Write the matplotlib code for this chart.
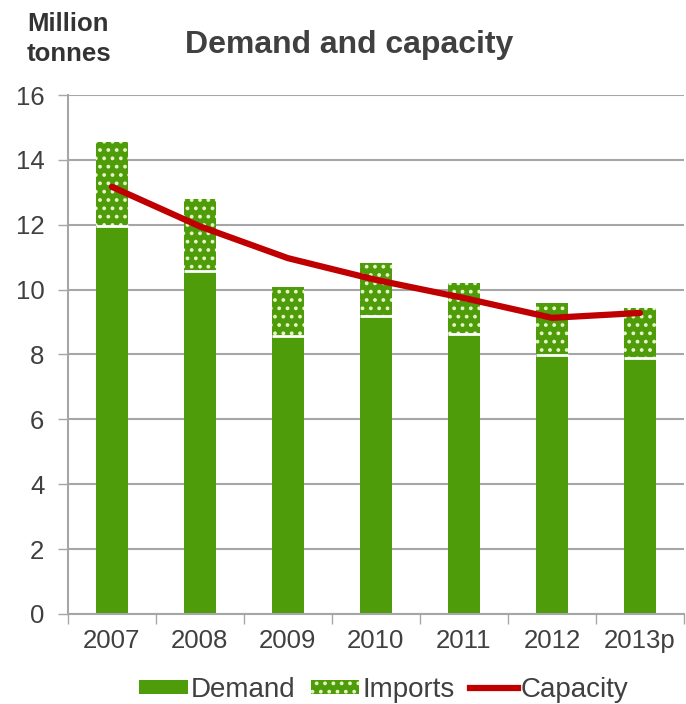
import matplotlib
matplotlib.use("Agg")
import matplotlib.pyplot as plt
import numpy as np
from matplotlib.patches import Patch
from matplotlib.lines import Line2D

plt.rcParams['font.family'] = ['Liberation Sans', 'DejaVu Sans']
plt.rcParams['hatch.linewidth'] = 1.5

years = ['2007', '2008', '2009', '2010', '2011', '2012', '2013p']
demand = [11.95, 10.58, 8.56, 9.18, 8.62, 7.98, 7.88]
imports = [2.60, 2.20, 1.51, 1.64, 1.58, 1.61, 1.56]
capacity = [13.17, 11.95, 10.97, 10.30, 9.74, 9.13, 9.28]
yticks = [0, 2, 4, 6, 8, 10, 12, 14, 16]

green = '#4f9c0b'
red = '#c00000'
grid_c = '#a6a6a6'
text_c = '#404040'

fig = plt.figure(figsize=(6.86, 7.04), dpi=100)
ax = fig.add_axes([0.099, 0.128, 0.898, 0.737])

x = np.arange(len(years))
w = 0.36
ax.bar(x, demand, w, color=green, linewidth=0, zorder=2)
ax.bar(x, imports, w, bottom=demand, color=green, edgecolor='#e6f5c8',
       linewidth=0, hatch='..', zorder=2)
ax.hlines(demand, x - w / 2, x + w / 2, colors='white', linewidth=2, zorder=3)
ax.plot(x, capacity, color=red, linewidth=4.5, solid_capstyle='round', zorder=4)

ax.set_ylim(0, 16)
ax.set_xlim(-0.5, len(years) - 0.5)
ax.set_yticks(yticks)
ax.set_yticklabels([str(v) for v in yticks])
ax.yaxis.grid(True, color=grid_c, linewidth=1.5, zorder=0)
ax.set_axisbelow(True)

ax.set_xticks(x)
ax.set_xticklabels(years)
ax.set_xticks(np.arange(len(years) + 1) - 0.5, minor=True)
ax.tick_params(axis='x', which='major', length=0, pad=11, labelsize=18.5, labelcolor=text_c)
ax.tick_params(axis='x', which='minor', length=7, width=1, color=grid_c, direction='out')
ax.tick_params(axis='y', length=7, width=1, color=grid_c, labelsize=18.5, labelcolor=text_c, pad=10)

for s in ['top', 'right']:
    ax.spines[s].set_visible(False)
for s in ['left', 'bottom']:
    ax.spines[s].set_color(grid_c)
    ax.spines[s].set_linewidth(1.5)

fig.text(0.039, 0.983, 'Million\ntonnes', fontsize=18.5, fontweight='bold',
         color='#333333', ha='left', va='top', linespacing=1.3)
fig.text(0.509, 0.936, 'Demand and capacity', fontsize=23, fontweight='bold',
         color=text_c, ha='center', va='center')

handles = [Patch(facecolor=green, linewidth=0),
           Patch(facecolor=green, edgecolor='#e6f5c8', linewidth=0, hatch='..'),
           Line2D([0], [0], color=red, linewidth=4.5)]
fig.legend(handles, ['Demand', 'Imports', 'Capacity'], loc='center',
           bbox_to_anchor=(0.56, 0.02), ncol=3, frameon=False, fontsize=20,
           handlelength=1.75, handleheight=0.4, handletextpad=0.1, columnspacing=0.55,
           labelcolor=text_c)

fig.savefig('out.png', dpi=100)
